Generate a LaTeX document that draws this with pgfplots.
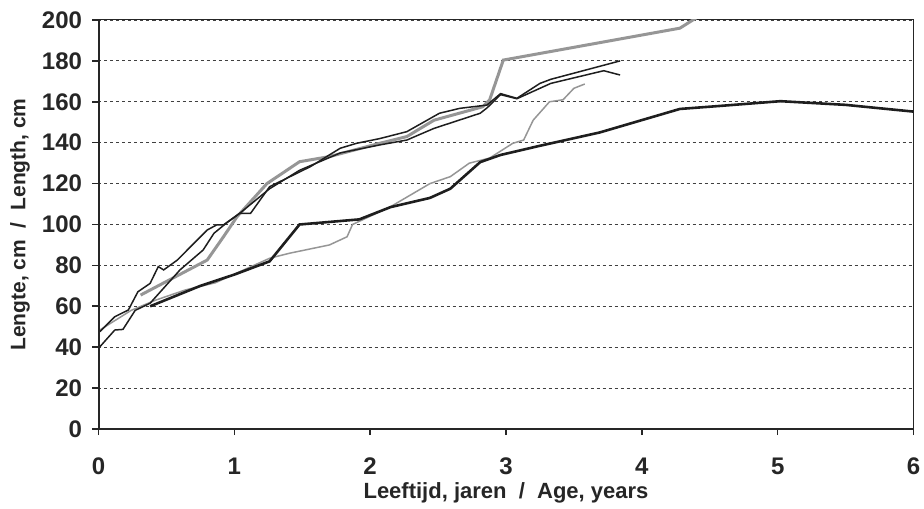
\documentclass[border=0pt]{standalone}
\usepackage{fontspec}
\setmainfont{Liberation Sans}
\usepackage{pgfplots}
\pgfplotsset{compat=1.18}

\definecolor{lgray}{RGB}{150,150,150}
\definecolor{dblack}{RGB}{30,30,30}

\begin{document}
\begin{tikzpicture}
\begin{axis}[
    name=ax,
    scale only axis,
    width=815pt, height=409pt,
    xmin=0, xmax=6, ymin=0, ymax=200,
    xtick={0,1,...,6},
    ytick={0,20,...,200},
    tick align=outside,
    major tick length=6pt,
    tick style={line width=1.6pt, black!85},
    xtick pos=bottom, ytick pos=left,
    axis line style={line width=1pt, black!85},
    ymajorgrids,
    grid style={dash pattern=on 3pt off 3pt, line width=0.9pt, black!75},
    /pgf/number format/assume math mode=true,
    tick label style={font=\fontsize{24}{26}\selectfont\bfseries, text=black!85},
    yticklabel style={xshift=-7pt},
    xticklabel style={yshift=-19pt},
    xlabel={Leeftijd, jaren\ \ /\ \ Age, years},
    ylabel={Lengte, cm\ \ /\ \ Length, cm},
    xlabel style={font=\fontsize{22}{24}\selectfont\bfseries, text=black!85,
        at={(axis description cs:0.5,-0.1565)}, anchor=center},
    ylabel style={font=\fontsize{21}{24}\selectfont\bfseries, text=black!85,
        at={(axis description cs:-0.0963,0.5)}, anchor=center},
    clip=true,
]

% thin gray, lower group
\addplot[lgray, line width=1.5pt] coordinates {
(0.01,48.4) (0.24,58) (0.42,63) (0.64,68) (0.86,71.5) (1.26,83.5) (1.41,86)
(1.70,90) (1.83,94) (1.87,100) (2.15,108.7) (2.44,120) (2.59,123.4) (2.73,130)
(2.88,132.5) (3.05,139.7) (3.13,141.3) (3.20,151) (3.32,160) (3.42,161)
(3.50,166.6) (3.58,168.7)};

% thick gray
\addplot[lgray, line width=3pt] coordinates {
(0.31,65.5) (0.80,82.6) (0.92,94) (1.02,103.8) (1.24,120) (1.48,130.7)
(1.70,133.2) (2.07,139.7) (2.27,143) (2.47,151) (2.83,157.6) (2.88,161)
(2.98,180.4) (4.28,196) (4.4,201)};

% thick black, long series
\addplot[dblack, line width=2.6pt] coordinates {
(0.38,60) (0.75,70) (1.0,75.5) (1.26,82) (1.48,100) (1.92,102.5) (2.15,108.5)
(2.44,113) (2.59,117.5) (2.81,130.5) (2.96,134) (3.25,138.5) (3.69,145)
(4.28,156.5) (4.58,158) (5.02,160.3) (5.5,158.5) (6.0,155.2)};

% thin black A
\addplot[dblack, line width=1.5pt] coordinates {
(0.01,47.6) (0.12,54.9) (0.22,58.2) (0.29,67.1) (0.38,71.2) (0.44,79.4)
(0.48,77.8) (0.58,82.6) (0.80,97.3) (0.87,99.8) (0.92,99.8) (1.04,105.5)
(1.12,105.5) (1.26,118.5) (1.56,128.3) (1.78,137.3) (1.90,139.7) (2.07,142)
(2.27,145.4) (2.51,154.4) (2.66,156.8) (2.86,158.4) (2.96,164) (3.08,161.7)
(3.25,169) (3.33,171) (3.84,180)};

% thin black B
\addplot[dblack, line width=1.5pt] coordinates {
(0.01,40.2) (0.12,48.4) (0.18,48.7) (0.27,58) (0.38,61.5) (0.60,77.8)
(0.77,87.5) (0.85,95.7) (0.94,100.6) (1.04,105.5) (1.26,117.5) (1.48,126.5)
(1.78,135) (2.07,138.9) (2.27,141.3) (2.47,147) (2.81,154.4) (2.86,157)
(2.96,163.5) (3.08,161.5) (3.33,169) (3.72,175.2) (3.84,173.1)};

% heavier left and bottom axis lines
\draw[line width=2.6pt, black!85] (rel axis cs:0,1) -- (rel axis cs:0,0) -- (rel axis cs:1,0);
\end{axis}
% page margins as in the reference
\path ([shift={(-98.5pt,-79pt)}]ax.south west) ([shift={(10.5pt,20pt)}]ax.north east);
\end{tikzpicture}
\end{document}
